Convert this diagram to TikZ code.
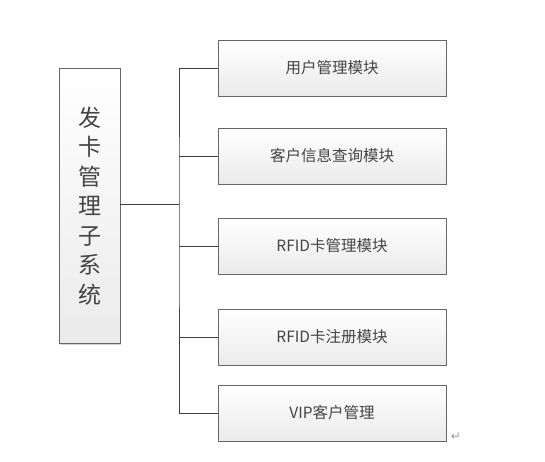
\documentclass[tikz,border=0pt]{standalone}
\usepackage{fontspec}
\setmainfont{Noto Sans CJK SC}
\newfontfamily\symfont{DejaVu Sans}
\usetikzlibrary{shadows}
\definecolor{txt}{HTML}{444444}
\definecolor{edge}{HTML}{666666}
\tikzset{
  modbox/.style={draw=edge, line width=0.9pt, minimum width=228pt, minimum height=56pt,
    top color=white, bottom color=gray!16, text=txt, font=\fontsize{15.5}{18}\selectfont,
    drop shadow={shadow xshift=1.2pt, shadow yshift=-1.2pt, opacity=0.35}},
  mainbox/.style={draw=edge, line width=0.9pt, minimum width=61pt, minimum height=275pt,
    top color=white, bottom color=gray!16, text=txt, align=center,
    font=\fontsize{23}{29.5}\selectfont,
    drop shadow={shadow xshift=1.2pt, shadow yshift=-1.2pt, opacity=0.35}},
  conn/.style={draw=black!75, line width=0.9pt}
}
\begin{document}
\begin{tikzpicture}[x=1pt,y=-1pt]
\useasboundingbox (0,0) rectangle (545,462);
\node[mainbox] (main) at (89.5,206) {发\\卡\\管\\理\\子\\系\\统};
\node[modbox] (m1) at (332,68) {用户管理模块};
\node[modbox] (m2) at (332,156) {客户信息查询模块};
\node[modbox] (m3) at (332,246) {RFID卡管理模块};
\node[modbox] (m4) at (332,337) {RFID卡注册模块};
\node[modbox] (m5) at (332,413) {VIP客户管理};
\coordinate (j) at (179,204);
\draw[conn] (main.east |- j) -- (j);
\draw[conn] (m1.west) -| (j) |- (m5.west);
\draw[conn] (m2.west) -- (m2.west -| j);
\draw[conn] (m3.west) -- (m3.west -| j);
\draw[conn] (m4.west) -- (m4.west -| j);
\node[text=gray!80, font=\symfont\fontsize{12}{12}\selectfont] (ret) at (456,437) {↵};
\end{tikzpicture}
\end{document}
